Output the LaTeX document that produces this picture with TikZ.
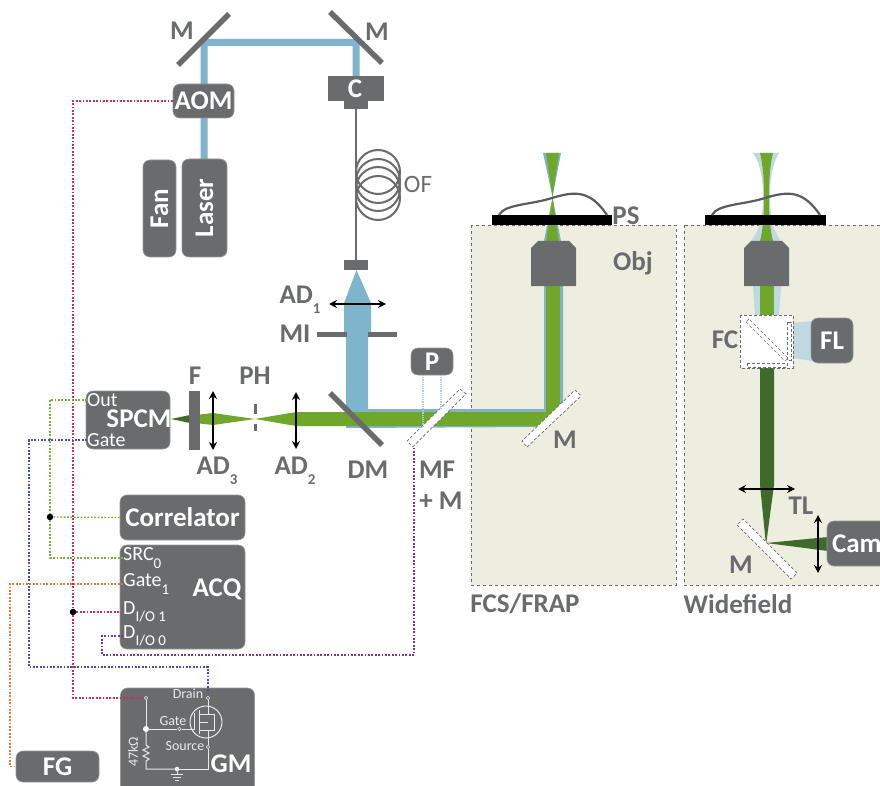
\documentclass[tikz,border=0pt]{standalone}
\usepackage{fontspec}
\setmainfont{Carlito}
\usepackage{tikz}
\usetikzlibrary{arrows.meta}

\definecolor{beamblue}{HTML}{7FB5CC}
\definecolor{paleblue}{HTML}{BFD9E2}
\definecolor{beamgreen}{HTML}{70A72B}
\definecolor{darkgreen}{HTML}{3F6B2A}
\definecolor{partgray}{HTML}{6A6B6D}
\definecolor{panelbg}{HTML}{EDEDE0}
\definecolor{sigred}{HTML}{C8325A}
\definecolor{siggreen}{HTML}{7DAF3A}
\definecolor{sigblue}{HTML}{4E4E9E}
\definecolor{sigorange}{HTML}{E07B39}
\definecolor{sigpurple}{HTML}{6A3D9A}

\newcommand{\lowsub}[1]{\raisebox{-.38em}{\fontsize{15}{15}\selectfont #1}}
\newcommand{\bigbold}{\fontsize{27}{27}\selectfont\bfseries}

\tikzset{
 box/.style={fill=partgray, draw=partgray!70!white, line width=.6pt, rounded corners=7pt, text=white, font=\bigbold, inner sep=0pt},
 lbl/.style={text=partgray, font=\bigbold, inner sep=0pt},
 head/.style={text=white, font=\bigbold, inner sep=0pt},
 port/.style={text=white, font=\fontsize{20}{20}\selectfont, inner sep=0pt, anchor=west},
 tiny/.style={text=white!85!partgray, font=\fontsize{14}{14}\selectfont, inner sep=0pt},
 panel/.style={fill=panelbg, draw=partgray, dashed, line width=.9pt},
 mirror/.style={draw=partgray, line width=5.5pt},
 dichroic/.style={fill=white, draw=partgray, densely dashed, line width=.7pt},
 lens/.style={<->, >={Stealth[length=8pt,width=8pt]}, line width=2pt, black},
 sig/.style={dash pattern=on 1.8pt off 1.6pt, line width=1.3pt},
 wire/.style={draw=white!85!partgray, line width=1pt},
 term/.style={circle, draw=white!85!partgray, fill=partgray, minimum size=3.5pt, inner sep=0pt, line width=.6pt},
 jdot/.style={circle, fill=black, minimum size=6.5pt, inner sep=0pt},
 wdot/.style={circle, fill=white, minimum size=6pt, inner sep=0pt}
}

\begin{document}
\begin{tikzpicture}[x=1pt,y=-1pt]
 \clip (0,0) rectangle (880,786);
 \fill[white] (0,0) rectangle (880,786);

 \draw[panel] (471,225) rectangle (676,585);
 \draw[panel] (684,225) rectangle (890,585);

 \fill[beamblue] (200.5,160) -- (200.5,39) -- (359.5,39) -- (359.5,76) -- (352.5,76) -- (352.5,46) -- (207.5,46) -- (207.5,160) -- cycle;
 \fill[beamblue] (356.5,270) -- (371,303) -- (371,334) -- (368,334) -- (368,409) -- (544,409) -- (544,286) -- (563,286) -- (563,408) -- (544,427) -- (346,428) -- (346,334) -- (344,334) -- (344,303) -- cycle;
 \fill[beamgreen] (255,419) -- (296,412) -- (541,412) -- (546,412) -- (546,286) -- (560,286) -- (560,407) -- (541,426) -- (296,426) -- cycle;
 \fill[beamgreen] (255,419) -- (213,413) -- (200,414.5) -- (200,423.5) -- (213,425) -- cycle;
 \fill[darkgreen] (171,419) -- (190,415) -- (190,423) -- cycle;

 \fill[beamblue] (543,153) -- (561,153) -- (552.5,197) -- (561,241) -- (544,241) -- (552.5,197) -- cycle;
 \fill[beamgreen] (546,153) -- (559,153) -- (552.5,197) -- (559,241) -- (546,241) -- (552.5,197) -- cycle;

 \fill[paleblue] (753,153) -- (779,153) .. controls (772,165) and (770,180) .. (770,197) .. controls (770,215) and (772,230) .. (781,241) -- (751,241) .. controls (760,230) and (763,215) .. (763,197) .. controls (763,180) and (761,165) .. (753,153) -- cycle;
 \fill[beamgreen] (760,153) -- (773,153) .. controls (770,165) and (769,180) .. (769,197) .. controls (769,215) and (770,230) .. (773,241) -- (760,241) .. controls (763,230) and (764,215) .. (764,197) .. controls (764,180) and (763,165) .. (760,153) -- cycle;
 \fill[paleblue] (753,286) -- (781,286) -- (779,316) -- (755,316) -- cycle;
 \fill[beamgreen] (760,286) rectangle (774,316);
 \fill[paleblue] (793,323) -- (812,321) -- (812,361) -- (793,358) -- cycle;
 \fill[darkgreen] (760,368) -- (774,368) -- (774,485) -- (766,545) -- (760,485) -- cycle;
 \fill[darkgreen] (766,543) -- (828,537) -- (828,551) -- cycle;

 \draw[mirror] (178,65) -- (229,14);
 \draw[mirror] (330,12) -- (382,63);
 \draw[mirror] (330,393) -- (382,445);
 \draw[draw=partgray, line width=5pt] (317,334) -- (347,334);
 \draw[draw=partgray, line width=5pt] (368,334) -- (397,334);

 \draw[dichroic] (412.5,447) -- (466,394) -- (460,389) -- (407,441) -- cycle;
 \draw[dichroic] (527,447) -- (581,396) -- (575,390) -- (522,441) -- cycle;
 \draw[dichroic] (737,525) -- (791,579) -- (797,573) -- (743,519) -- cycle;

 \draw[partgray, line width=2pt] (356,109) -- (356,260);
 \foreach \y in {172,181,189,198} {
  \draw[partgray, line width=2pt] (378,\y) circle (22);
 }
 \fill[partgray] (328,76) rectangle (384,101);
 \fill[partgray] (344,101) rectangle (368,109);
 \fill[partgray] (344,260) rectangle (368,270);
 \node (C) at (355,89) [head] {C};
 \node (OF) at (418,184) [text=partgray, font=\fontsize{25}{25}\selectfont, inner sep=0pt] {OF};

 \node (AOM) at (203.5,101) [box, minimum width=61pt, minimum height=34pt] {AOM};
 \node (fan) at (159.5,208.5) [box, minimum width=33pt, minimum height=97pt] {\rotatebox{90}{Fan}};
 \node (laser) at (204.5,208) [box, minimum width=45pt, minimum height=98pt] {\rotatebox{90}{Laser}};
 \node (M1) at (182,31) [lbl] {M};
 \node (M2) at (377,32) [lbl] {M};

 \draw[lens] (329,304) -- (386,304);
 \draw[lens] (296,392) -- (296,449);
 \draw[lens] (213,391) -- (213,450);
 \draw[lens] (738,489) -- (795,489);
 \draw[lens] (818,515) -- (818,573);

 \fill[partgray] (189,391) rectangle (200,450);
 \fill[partgray] (253.5,404) rectangle (256.5,414);
 \fill[partgray] (253.5,424) rectangle (256.5,431);

 \node (AD1) at (300,300) [lbl] {AD\lowsub{1}};
 \node (MI) at (295,334) [lbl] {MI};
 \node (F) at (195,376) [lbl] {F};
 \node (PH) at (255,376) [lbl] {PH};
 \node (AD3) at (217,471) [lbl] {AD\lowsub{3}};
 \node (AD2) at (295,471) [lbl] {AD\lowsub{2}};
 \node (DM) at (368,470) [lbl] {DM};
 \node (MF) at (437,470) [lbl] {MF};
 \node (plusM) at (441,501) [lbl] {+ M};
 \node (M3) at (565,440) [lbl] {M};
 \node (M4) at (741,565) [lbl] {M};
 \node (PS) at (626,216) [lbl] {PS};
 \node (Obj) at (633,263) [lbl] {Obj};
 \node (FC) at (725,340) [lbl] {FC};
 \node (TL) at (801,506) [lbl] {TL};
 \node (FCS) at (525,604) [lbl] {FCS/FRAP};
 \node (wide) at (738,604) [lbl] {Widefield};

 \node (P) at (432,361.5) [box, minimum width=42pt, minimum height=27pt] {P};
 \draw[paleblue!70!beamblue, densely dotted, line width=1.2pt] (423,375) -- (423,427);
 \draw[paleblue!70!beamblue, densely dotted, line width=1.2pt] (441,375) -- (441,410);

 \foreach \x in {531,744} {
  \fill[partgray] (\x,286) -- (\x,248) -- (\x+7,241) -- (\x+38,241) -- (\x+45,248) -- (\x+45,286) -- cycle;
 }
 \fill[black] (492,215) rectangle (612,225);
 \fill[black] (705,215) rectangle (826,225);
 \foreach \x in {0,213} {
  \draw[partgray!85!black, line width=2.2pt] (\x+499,215) .. controls (\x+505,204) and (\x+530,205) .. (\x+552,198) .. controls (\x+575,191) and (\x+590,190) .. (\x+607,215);
 }

 \draw[dichroic, fill=white] (740,315) rectangle (793,368);
 \draw[dichroic, line width=.5pt] (746,322) -- (785,361) -- (788,358) -- (749,319) -- cycle;
 \draw[dichroic, line width=.5pt] (787,322) rectangle (791,360);
 \draw[dichroic, line width=.5pt] (747,363) rectangle (787,367);
 \node (FL) at (832,340.5) [box, minimum width=42pt, minimum height=45pt] {FL};
 \node (cam) at (858,543.5) [box, minimum width=62pt, minimum height=45pt, text width=52pt, align=left] {Cam};

 \node (spcm) at (128,420) [box, minimum width=84pt, minimum height=58pt] {};
 \node (spcmT) at (139,419) [head] {SPCM};
 \node (out) at (87,400) [port] {Out};
 \node (gatein) at (87,440) [port] {Gate};
 \node (corr) at (182.5,517.5) [box, minimum width=125pt, minimum height=45pt] {Correlator};
 \node (acq) at (182.5,597) [box, minimum width=125pt, minimum height=104pt] {};
 \node (acqT) at (217,589) [head] {ACQ};
 \node (srcT) at (123,558) [port] {SRC\lowsub{0}};
 \node (gateT) at (123,584) [port] {Gate\lowsub{1}};
 \node (dioA) at (123,612) [port] {D\lowsub{I/O 1}};
 \node (dioB) at (123,636) [port] {D\lowsub{I/O 0}};
 \node (gm) at (187.5,745) [box, minimum width=134pt, minimum height=114pt] {};
 \node (gmT) at (231,764) [head] {GM};
 \node (FG) at (57.5,766.5) [box, minimum width=83pt, minimum height=31pt] {FG};

 \node (drainL) at (146,698) [term] {};
 \node (drainR) at (208,698) [term] {};
 \node (sourceR) at (208,747) [term] {};
 \node (gateG) at (179.5,729) [term] {};
 \node (jA) at (146,729) [wdot] {};
 \node (jB) at (177,769) [wdot, minimum size=4.5pt] {};
 \node (drainT) at (188,694) [tiny] {Drain};
 \node (gateTx) at (173,721) [tiny] {Gate};
 \node (sourceT) at (185,746) [tiny] {Source};
 \node (ohm) at (133,752) [tiny, rotate=90] {47kΩ};
 \draw[wire] (drainL) -- (jA);
 \draw[wire] (jA) -- (146,745) -- (149,747) -- (143,750) -- (149,753) -- (143,756) -- (149,759) -- (146,761) -- (146,769) -- (jB);
 \draw[wire] (jB) -- (208,769) -- (sourceR);
 \draw[wire] (jA) -- (gateG);
 \draw[wire] (gateG) -- (194,729) -- (194,713);
 \draw[wire] (drainR) -- (208,714) -- (199,714);
 \draw[wire] (199,710) -- (199,734);
 \draw[wire] (199,730) -- (208,730) -- (sourceR);
 \draw[wire] (199,722) -- (208,722);
 \draw[wire] (208,714) -- (214,714) -- (214,730) -- (208,730);
 \draw[wire] (206,722) circle (16);
 \draw[wire, line width=.7pt] (177,769) -- (177,774);
 \foreach \w/\y in {6/774,4/777,2/780} {
  \draw[wire, line width=.7pt] (177-\w,\y) -- (177+\w,\y);
 }

 \node (dotG) at (50,517) [jdot] {};
 \node (dotR) at (73,612) [jdot] {};
 \coordinate (mfEnd) at (414,446);
 \draw[sig, sigred] (AOM.west) -| (dotR) |- (drainL);
 \draw[sig, sigred] (dotR) -- (dioA.west);
 \draw[sig, siggreen] (out.west) -| (dotG) |- (srcT.west);
 \draw[sig, siggreen] (dotG) -- (corr.west);
 \draw[sig, sigblue] (gatein.west) -- (29,440) -- (29,667) -- (208,667) -- (drainR);
 \draw[sig, sigorange] (gateT.west) -- (10,584) |- (FG.west);
 \draw[sig, sigpurple] (dioB.west) -- (102,636) |- (414,655) -- (mfEnd);
\end{tikzpicture}
\end{document}
